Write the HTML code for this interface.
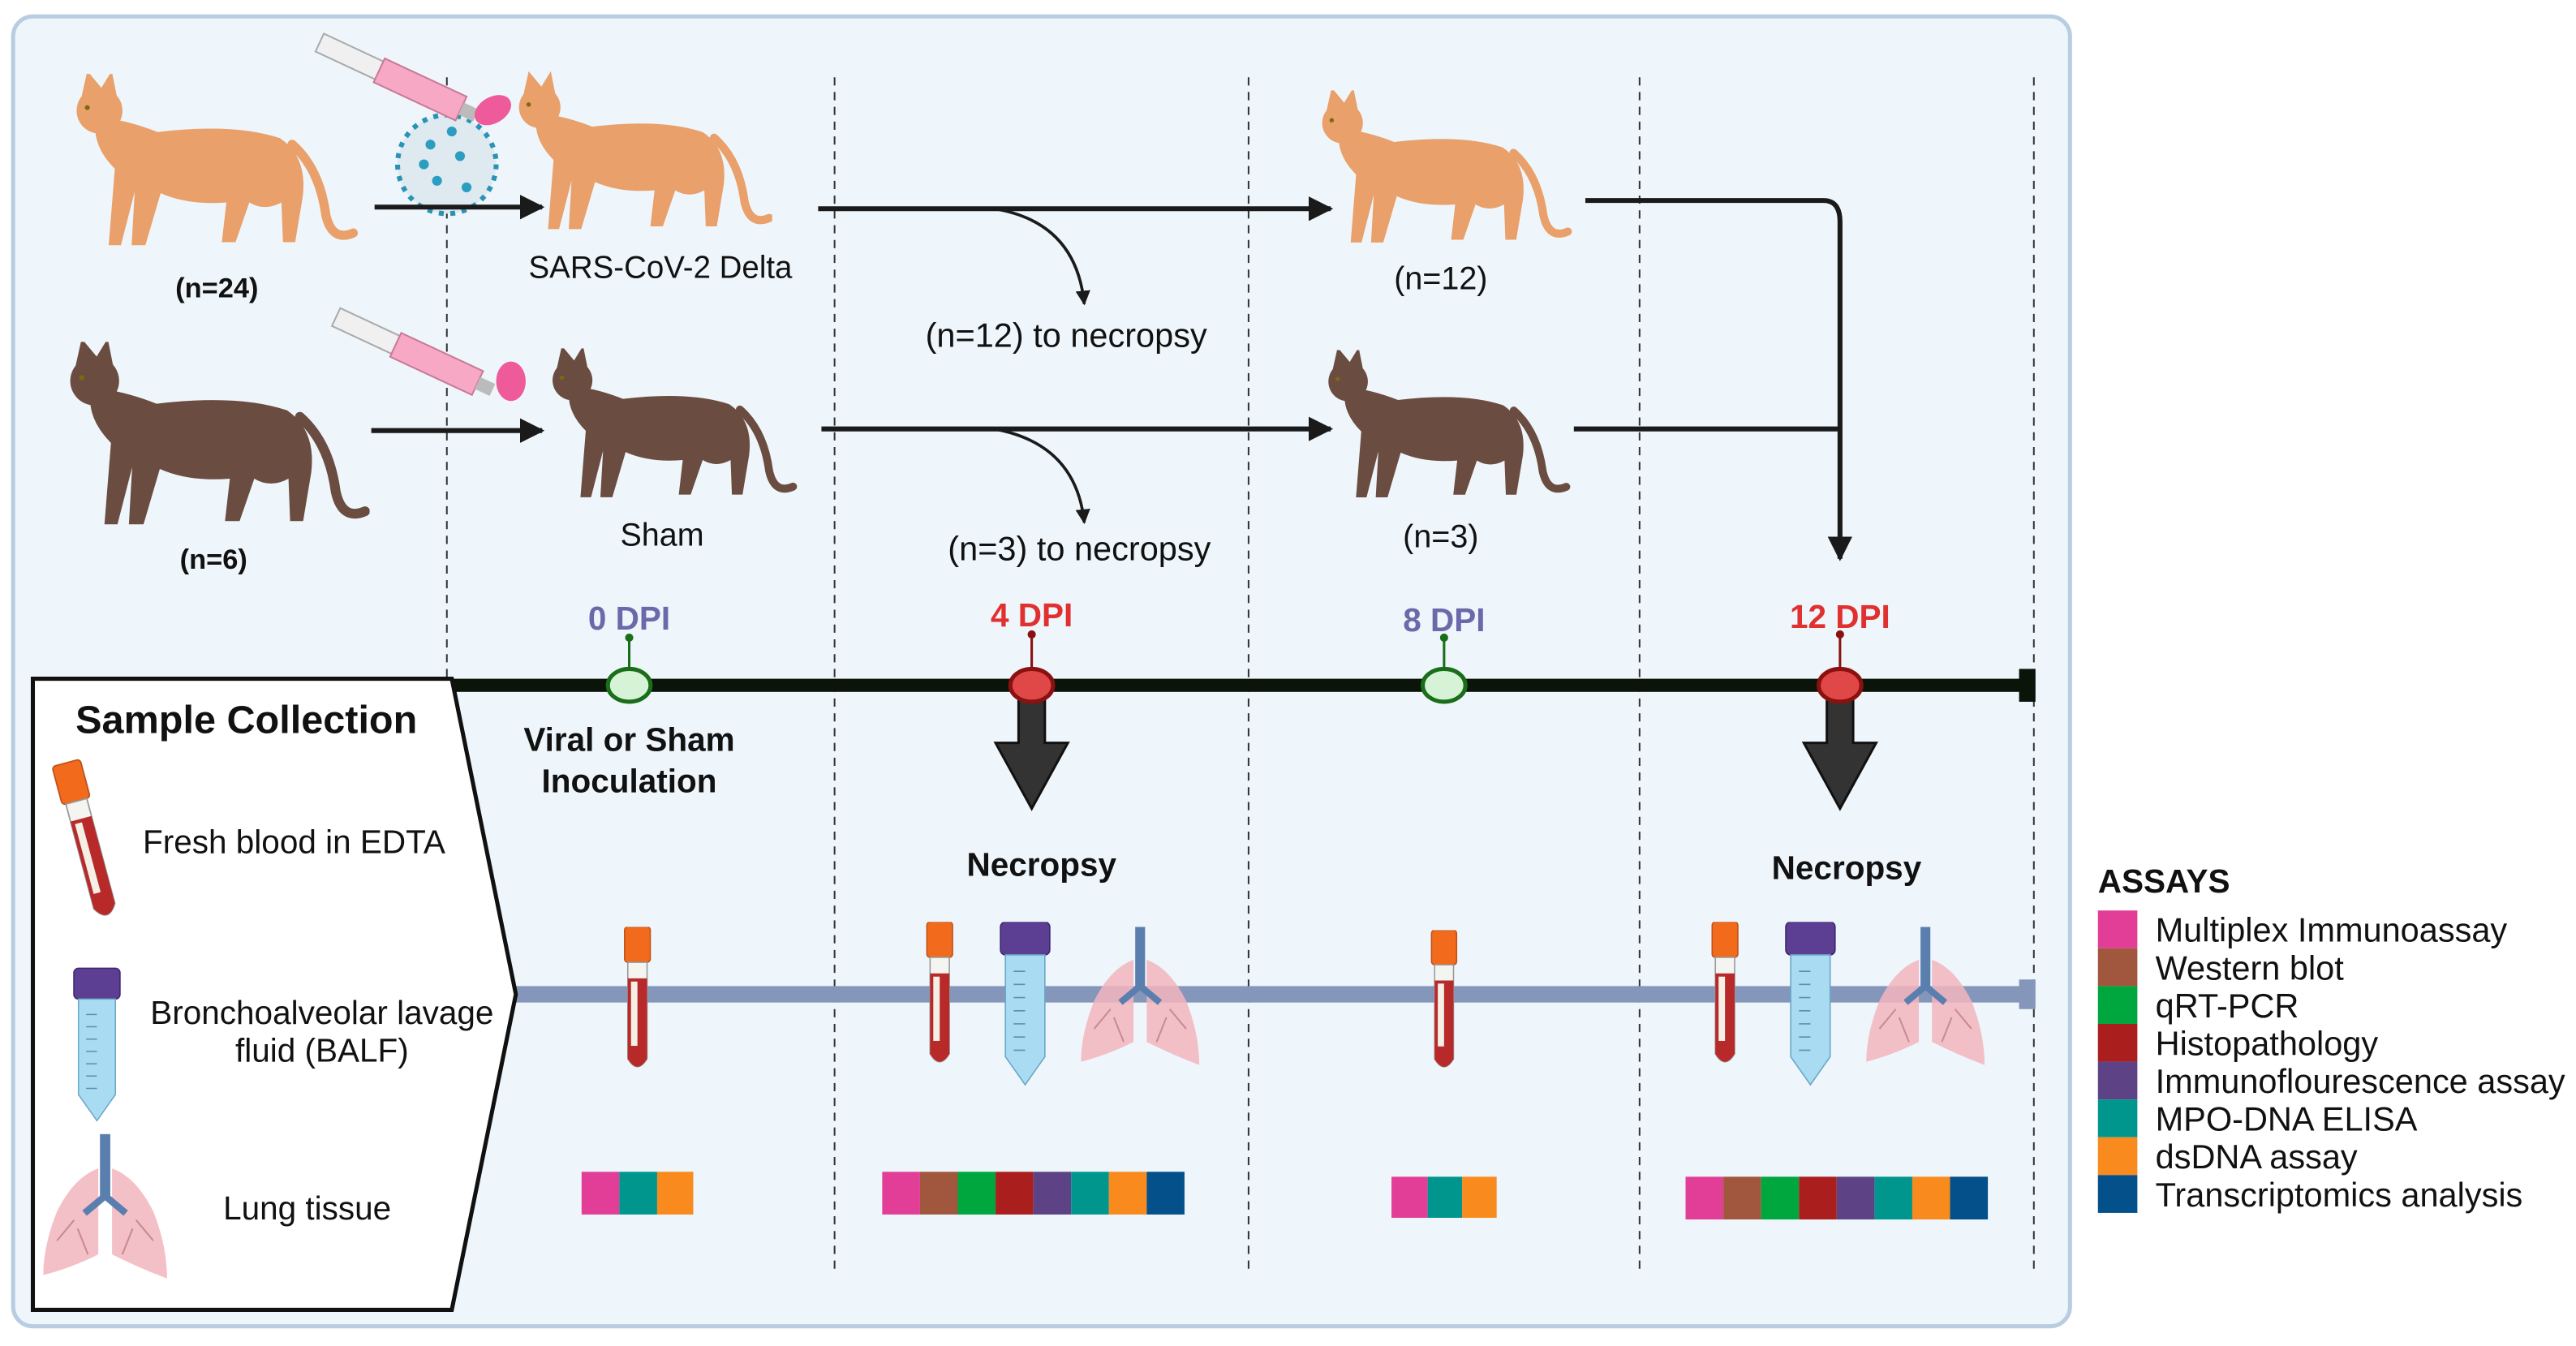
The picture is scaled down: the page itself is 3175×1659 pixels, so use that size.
<!DOCTYPE html>
<html><head><meta charset="utf-8"><style>
html,body{margin:0;padding:0;background:#fff}
svg{display:block}
text{font-family:"Liberation Sans",sans-serif}
</style></head><body>
<svg width="3175" height="1659" viewBox="0 0 1568 819" preserveAspectRatio="none" xmlns="http://www.w3.org/2000/svg">
<defs>
<symbol id="cat" viewBox="0 0 190 115">
<path fill="currentColor" d="M20,28 Q40,30 60,38 Q110,32 140,42 Q158,54 155,80 L150,110 L142,110 L141,84 Q130,90 120,84 L111,110 L102,110 L105,84 Q80,86 62,78 L52,112 L43,112 L45,77 L36,112 L28,112 L32,62 Q16,46 20,28 Z"/>
<ellipse fill="currentColor" cx="22" cy="24" rx="15" ry="15"/>
<path fill="currentColor" d="M10,16 L14,-2 L24,10 Z M22,11 L30,-2 L34,18 Z"/>
<path fill="none" stroke="currentColor" stroke-width="6" stroke-linecap="round" d="M148,46 Q166,62 170,92 Q174,110 188,104"/>
<circle cx="14" cy="22" r="1.6" fill="#7a6a10"/>
</symbol>
<symbol id="btube" viewBox="0 0 20 90">
<rect x="2" y="0" width="16" height="22" rx="2" fill="#f26b1d" stroke="#c0501a" stroke-width="0.8"/>
<path d="M4,22 L16,22 L16,82 Q10,92 4,82 Z" fill="#f4f4f0" stroke="#999" stroke-width="0.8"/>
<path d="M4,32 L16,32 L16,82 Q10,92 4,82 Z" fill="#b82a2a"/>
<rect x="6" y="34" width="4" height="40" fill="#f4f0e6"/>
</symbol>
<symbol id="ftube" viewBox="0 0 32 100">
<rect x="1" y="0" width="30" height="20" rx="3" fill="#5c3e93" stroke="#3d2870" stroke-width="0.8"/>
<path d="M4,20 L28,20 L28,82 L16,99 L4,82 Z" fill="#a9dbf2" stroke="#6aa8c8" stroke-width="0.8"/>
<g stroke="#5a90b0" stroke-width="0.8"><line x1="9" y1="30" x2="16" y2="30"/><line x1="9" y1="38" x2="16" y2="38"/><line x1="9" y1="46" x2="16" y2="46"/><line x1="9" y1="54" x2="16" y2="54"/><line x1="9" y1="62" x2="16" y2="62"/><line x1="9" y1="70" x2="16" y2="70"/><line x1="9" y1="78" x2="16" y2="78"/></g>
</symbol>
<symbol id="lung" viewBox="0 0 76 86">
<path d="M34,20 Q20,25 10,45 Q2,65 2,82 Q18,78 34,70 Z" fill="#f2b5bd" opacity="0.85"/>
<path d="M42,20 Q56,25 66,45 Q74,65 74,84 Q58,78 42,70 Z" fill="#f2b5bd" opacity="0.85"/>
<rect x="35" y="0" width="6" height="38" fill="#5a7fae"/>
<path d="M38,36 L26,46 M38,36 L50,46" stroke="#5a7fae" stroke-width="4"/>
<path d="M20,50 L10,62 M22,55 L28,70 M56,50 L66,62 M54,55 L48,70" stroke="#c98a92" stroke-width="1"/>
</symbol>
<marker id="ah" viewBox="0 0 10 10" refX="9" refY="5" markerWidth="5" markerHeight="5" orient="auto"><path d="M0,0 L10,5 L0,10 Z" fill="#1a1a1a"/></marker>
</defs>

<rect x="8" y="10" width="1252" height="797" rx="12" fill="#eef6fb" stroke="#b9cde2" stroke-width="2.5"/>

<g stroke="#333" stroke-width="1" stroke-dasharray="5,4">
<line x1="272" y1="47" x2="272" y2="775"/><line x1="508" y1="47" x2="508" y2="775"/><line x1="760" y1="47" x2="760" y2="775"/><line x1="998" y1="47" x2="998" y2="775"/><line x1="1238" y1="47" x2="1238" y2="775"/>
</g>

<use href="#cat" x="35" y="45" width="187" height="107" style="color:#e9a06a"/>
<use href="#cat" x="310" y="42" width="160" height="103" style="color:#e9a06a"/>
<use href="#cat" x="795" y="55" width="165" height="95" style="color:#e9a06a"/>
<use href="#cat" x="35" y="208" width="190" height="114" style="color:#6b4c41"/>
<use href="#cat" x="328" y="212" width="159" height="93" style="color:#6b4c41"/>
<use href="#cat" x="800" y="213" width="158" height="92" style="color:#6b4c41"/>

<circle cx="272" cy="100" r="30" fill="#dfe9f0" stroke="#2a93b5" stroke-width="3" stroke-dasharray="3,4"/>
<g fill="#2a9dc0"><circle cx="262" cy="88" r="3"/><circle cx="280" cy="95" r="3"/><circle cx="266" cy="110" r="3"/><circle cx="284" cy="114" r="3"/><circle cx="258" cy="100" r="3"/><circle cx="275" cy="80" r="3"/></g>
<g transform="rotate(25 195 25)">
<rect x="195" y="20" width="40" height="12" fill="#f0f0f0" stroke="#aaa"/>
<rect x="235" y="18" width="55" height="16" fill="#f7a8c5" stroke="#c87a98"/>
<rect x="290" y="22" width="10" height="8" fill="#bbb"/>
</g>
<ellipse cx="300" cy="67" rx="12" ry="8" fill="#ee5a9a" transform="rotate(-30 300 67)"/>
<g transform="rotate(25 205 192)">
<rect x="205" y="187" width="40" height="12" fill="#f0f0f0" stroke="#aaa"/>
<rect x="245" y="185" width="55" height="16" fill="#f7a8c5" stroke="#c87a98"/>
<rect x="300" y="189" width="10" height="8" fill="#bbb"/>
</g>
<ellipse cx="311" cy="232" rx="9" ry="12" fill="#ee5a9a"/>

<g stroke="#1a1a1a" stroke-width="3" fill="none">
<line x1="228" y1="126" x2="330" y2="126" marker-end="url(#ah)"/>
<line x1="226" y1="262" x2="330" y2="262" marker-end="url(#ah)"/>
<line x1="498" y1="127" x2="810" y2="127" marker-end="url(#ah)"/>
<line x1="500" y1="261" x2="810" y2="261" marker-end="url(#ah)"/>
<path d="M965,122 L1110,122 Q1120,122 1120,135 L1120,340" marker-end="url(#ah)"/>
<line x1="958" y1="261" x2="1120" y2="261"/>
</g>
<g stroke="#1a1a1a" stroke-width="1.8" fill="none">
<path d="M605,127 Q655,135 660,185" marker-end="url(#ah)"/>
<path d="M605,261 Q655,270 660,318" marker-end="url(#ah)"/>
</g>

<g font-size="19" fill="#111" text-anchor="middle">
<text x="132" y="181" font-weight="bold" font-size="17">(n=24)</text>
<text x="130" y="346" font-weight="bold" font-size="17">(n=6)</text>
<text x="402" y="169">SARS-CoV-2 Delta</text>
<text x="403" y="332" font-size="19.5">Sham</text>
<text x="649" y="211" font-size="20.5">(n=12) to necropsy</text>
<text x="657" y="341" font-size="20.5">(n=3) to necropsy</text>
<text x="877" y="176" font-size="19.5">(n=12)</text>
<text x="877" y="333" font-size="19.5">(n=3)</text>
</g>

<g font-weight="bold" font-size="20" text-anchor="middle">
<text x="383" y="383" fill="#6a6aaa">0 DPI</text>
<text x="628" y="381" fill="#e03030">4 DPI</text>
<text x="879" y="384" fill="#6a6aaa">8 DPI</text>
<text x="1120" y="382" fill="#e03030">12 DPI</text>
</g>
<g stroke-width="1.5">
<line x1="383" y1="388" x2="383" y2="408" stroke="#1a6e1a"/><circle cx="383" cy="388" r="2.5" fill="#1a6e1a"/>
<line x1="628" y1="386" x2="628" y2="408" stroke="#8b1010"/><circle cx="628" cy="386" r="2.5" fill="#8b1010"/>
<line x1="879" y1="388" x2="879" y2="408" stroke="#1a6e1a"/><circle cx="879" cy="388" r="2.5" fill="#1a6e1a"/>
<line x1="1120" y1="386" x2="1120" y2="408" stroke="#8b1010"/><circle cx="1120" cy="386" r="2.5" fill="#8b1010"/>
</g>

<rect x="272" y="413" width="966" height="8" fill="#0a1408"/>
<rect x="1229" y="407" width="10" height="20" fill="#0a1408"/>
<g fill="#333" stroke="#111" stroke-width="1.5">
<path d="M620,425 L636,425 L636,452 L650,452 L628,492 L606,452 L620,452 Z"/>
<path d="M1112,425 L1128,425 L1128,452 L1142,452 L1120,492 L1098,452 L1112,452 Z"/>
</g>
<ellipse cx="383" cy="417" rx="13" ry="10" fill="#d7f3d7" stroke="#1a6e1a" stroke-width="2.5"/>
<ellipse cx="628" cy="417" rx="13" ry="10" fill="#e04848" stroke="#8b1010" stroke-width="2.5"/>
<ellipse cx="879" cy="417" rx="13" ry="10" fill="#d7f3d7" stroke="#1a6e1a" stroke-width="2.5"/>
<ellipse cx="1120" cy="417" rx="13" ry="10" fill="#e04848" stroke="#8b1010" stroke-width="2.5"/>

<g font-weight="bold" font-size="20" fill="#111" text-anchor="middle">
<text x="383" y="457">Viral or Sham</text>
<text x="383" y="482">Inoculation</text>
<text x="634" y="533">Necropsy</text>
<text x="1124" y="535">Necropsy</text>
</g>

<rect x="310" y="600" width="928" height="10" fill="#8497bb"/>
<rect x="1229" y="596" width="10" height="18" fill="#8497bb"/>

<path d="M20,413 L275,413 L314,605 L275,797 L20,797 Z" fill="#fff" stroke="#111" stroke-width="2.5"/>
<text x="150" y="446" font-weight="bold" font-size="24" text-anchor="middle" fill="#111">Sample Collection</text>
<g font-size="20" fill="#111" text-anchor="middle">
<text x="179" y="519">Fresh blood in EDTA</text>
<text x="196" y="623">Bronchoalveolar lavage</text>
<text x="196" y="646">fluid (BALF)</text>
<text x="187" y="742">Lung tissue</text>
</g>
<use href="#btube" x="42" y="462" width="22" height="100" transform="rotate(-15 53 512)"/>
<use href="#ftube" x="44" y="584" width="30" height="104"/>
<use href="#lung" x="22" y="690" width="84" height="90"/>

<use href="#btube" x="378" y="564" width="20" height="88"/>
<use href="#btube" x="562" y="561" width="20" height="88"/>
<use href="#ftube" x="608" y="561" width="32" height="100"/>
<use href="#lung" x="656" y="564" width="76" height="86"/>
<use href="#btube" x="869" y="566" width="20" height="86"/>
<use href="#btube" x="1040" y="561" width="20" height="88"/>
<use href="#ftube" x="1086" y="561" width="32" height="100"/>
<use href="#lung" x="1134" y="564" width="76" height="86"/>

<g>
<rect x="354" y="713" width="23" height="26" fill="#e33e97"/><rect x="377" y="713" width="23" height="26" fill="#00968e"/><rect x="400" y="713" width="22" height="26" fill="#f98a1e"/>
<rect x="847" y="716" width="22" height="25" fill="#e33e97"/><rect x="869" y="716" width="21" height="25" fill="#00968e"/><rect x="890" y="716" width="21" height="25" fill="#f98a1e"/>
</g>
<g id="sq8">
<rect x="537" y="713" width="23" height="26" fill="#e33e97"/><rect x="560" y="713" width="23" height="26" fill="#a0573e"/><rect x="583" y="713" width="23" height="26" fill="#00a63e"/><rect x="606" y="713" width="23" height="26" fill="#aa1f1e"/><rect x="629" y="713" width="23" height="26" fill="#5d4385"/><rect x="652" y="713" width="23" height="26" fill="#00968e"/><rect x="675" y="713" width="23" height="26" fill="#f98a1e"/><rect x="698" y="713" width="23" height="26" fill="#03508a"/>
</g>
<use href="#sq8" transform="translate(489,3)"/>

<text x="1277" y="543" font-weight="bold" font-size="20" fill="#111">ASSAYS</text>
<g>
<rect x="1277" y="554" width="24" height="23" fill="#e33e97"/><rect x="1277" y="577" width="24" height="23" fill="#a0573e"/><rect x="1277" y="600" width="24" height="23" fill="#00a63e"/><rect x="1277" y="623" width="24" height="23" fill="#aa1f1e"/><rect x="1277" y="646" width="24" height="23" fill="#5d4385"/><rect x="1277" y="669" width="24" height="23" fill="#00968e"/><rect x="1277" y="692" width="24" height="23" fill="#f98a1e"/><rect x="1277" y="715" width="24" height="23" fill="#03508a"/>
</g>
<g font-size="20.5" fill="#111">
<text x="1312" y="573">Multiplex Immunoassay</text>
<text x="1312" y="596">Western blot</text>
<text x="1312" y="619">qRT-PCR</text>
<text x="1312" y="642">Histopathology</text>
<text x="1312" y="665">Immunoflourescence assay</text>
<text x="1312" y="688">MPO-DNA ELISA</text>
<text x="1312" y="711">dsDNA assay</text>
<text x="1312" y="734">Transcriptomics analysis</text>
</g>
</svg>
</body></html>
